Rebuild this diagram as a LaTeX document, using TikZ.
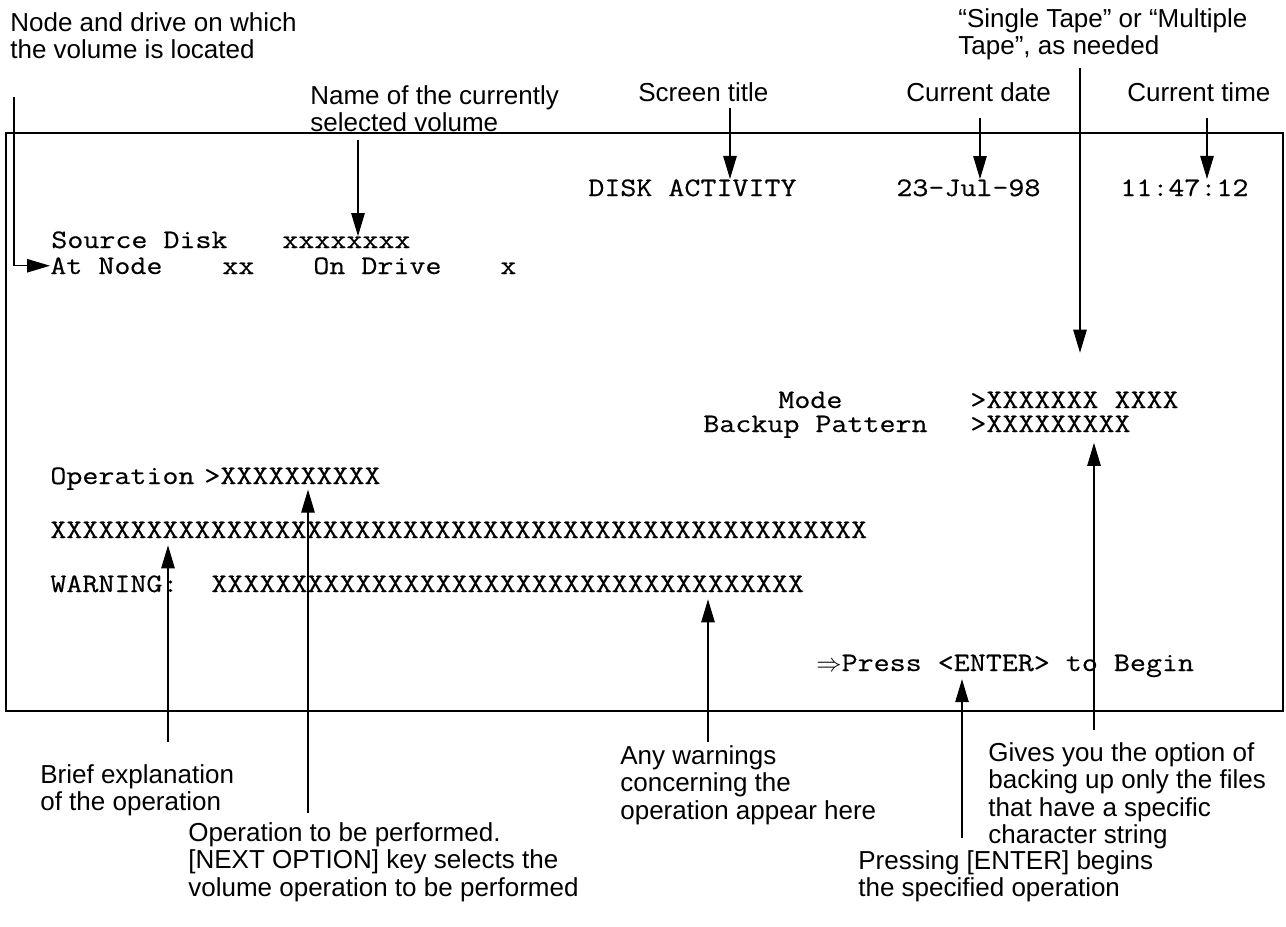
\documentclass[tikz,border=0pt]{standalone}
\usepackage{fontspec}
\setmainfont{Liberation Sans}
\setmonofont{Latin Modern Mono}[FakeStretch=1.166,FakeBold=0.4]
\usetikzlibrary{arrows.meta}

\begin{document}
\begin{tikzpicture}[x=0.02cm,y=-0.02cm,
  note/.style={anchor=north west,inner sep=0pt,align=left,
    font=\fontsize{14.8}{15.6}\selectfont},
  scr/.style={anchor=base west,inner sep=0pt,
    font=\ttfamily\fontsize{15.18}{16}\selectfont},
  lead/.style={line width=0.6pt},
  pointer/.style={lead,-{Triangle[length=0.46cm,width=0.27cm]}},
  frame/.style={line width=1.1pt}]
\useasboundingbox (0,0) rectangle (1286,927);

% screen frame
\draw[frame] (6,133) rectangle (1283,711);

% screen contents
\node[scr] (title)    at (588,196) {DISK ACTIVITY};
\node[scr] (date)     at (896,196) {23-Jul-98};
\node[scr] (time)     at (1120,196) {11:47:12};
\node[scr] (srclbl)   at (51,248)  {Source Disk};
\node[scr] (srcname)  at (282,248) {xxxxxxxx};
\node[scr] (atnode)   at (50,274)  {At Node};
\node[scr] (nodeval)  at (222,274) {xx};
\node[scr] (ondrive)  at (313,274) {On Drive};
\node[scr] (driveval) at (500,274) {x};
\node[scr] (modelbl)  at (778,408) {Mode};
\node[scr] (modeval)  at (970,408) {>XXXXXXX XXXX};
\node[scr] (patlbl)   at (703,432) {Backup Pattern};
\node[scr] (patval)   at (970,432) {>XXXXXXXXX};
\node[scr] (oplbl)    at (50,484)  {Operation};
\node[scr] (opval)    at (204,484) {>XXXXXXXXXX};
\node[scr] (expl)     at (50,538)  {XXXXXXXXXXXXXXXXXXXXXXXXXXXXXXXXXXXXXXXXXXXXXXXXXXX};
\node[scr] (warnlbl)  at (50,592)  {WARNING:};
\node[scr] (warnval)  at (211,592) {XXXXXXXXXXXXXXXXXXXXXXXXXXXXXXXXXXXXX};
\node[scr] (press)    at (816,671) {$\Rightarrow$Press <ENTER> to Begin};

% callout texts
\node[note] (nlocation) at (10,12)   {Node and drive on which\\the volume is located};
\node[note] (nvolume)   at (310,85)  {Name of the currently\\selected volume};
\node[note] (ntitle)    at (638,82)  {Screen title};
\node[note] (ndate)     at (906,82)  {Current date};
\node[note] (ntime)     at (1127,82) {Current time};
\node[note] (ntape)     at (958,8)   {“Single Tape” or “Multiple\\Tape”, as needed};
\node[note] (nbrief)    at (40,764)  {Brief explanation\\of the operation};
\node[note] (nop)       at (188,822) {Operation to be performed.\\{[}NEXT OPTION] key selects the\\volume operation to be performed};
\node[note] (nwarn)     at (620,745) {Any warnings\\concerning the\\operation appear here};
\node[note] (nenter)    at (858,850) {Pressing [ENTER] begins\\the specified operation};
\node[note] (npattern)  at (988,742) {Gives you the option of\\backing up only the files\\that have a specific\\character string};

% free ends of the leader lines
\coordinate (klocation) at (14,97);
\coordinate (kvolume)   at (358,140);
\coordinate (ktitle)    at (730,108);
\coordinate (kdate)     at (980,118);
\coordinate (ktime)     at (1207,118);
\coordinate (ktape)     at (1080,68);
\coordinate (kbrief)    at (168,742);
\coordinate (kop)       at (308,813);
\coordinate (kwarn)     at (708,742);
\coordinate (kenter)    at (962,838);
\coordinate (kpattern)  at (1094,730);

% leader lines
\draw[pointer] (klocation) |- (atnode.west);
\draw[pointer] (kvolume) -- (kvolume |- srcname.north);
\draw[pointer] (ktitle) -- (ktitle |- title.north);
\draw[pointer] (kdate) -- (kdate |- date.north);
\draw[pointer] (ktime) -- (ktime |- time.north);
\draw[pointer] (ktape) -- ([yshift=22pt]ktape |- modeval.north);
\draw[pointer] (kbrief) -- ([yshift=-4pt]kbrief |- expl.south);
\draw[pointer] (kop) -- ([yshift=-3pt]kop |- opval.south);
\draw[pointer] (kwarn) -- ([yshift=-4pt]kwarn |- warnval.south);
\draw[pointer] (kenter) -- ([yshift=-1pt]kenter |- press.south);
\draw[pointer] (kpattern) -- ([yshift=-6pt]kpattern |- patval.south);
\end{tikzpicture}
\end{document}
